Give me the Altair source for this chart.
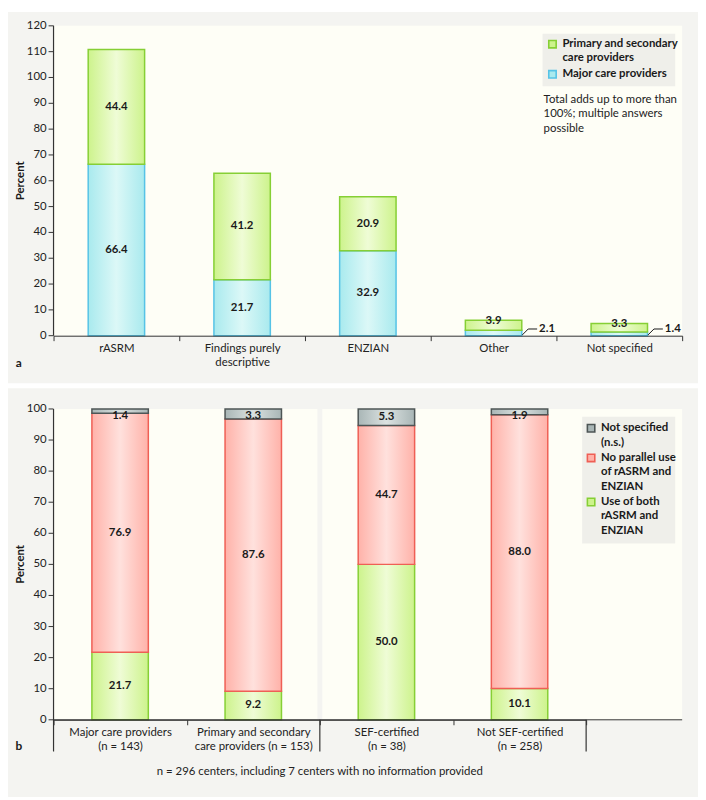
import altair as alt
import pandas as pd

FONT = "Lato"

# ---------------- data ----------------
cats_a = ["rASRM", "Findings purely\ndescriptive", "ENZIAN", "Other", "Not specified"]
major_a = [66.4, 21.7, 32.9, 2.1, 1.4]
primary_a = [44.4, 41.2, 20.9, 3.9, 3.3]
yticks_a = [0, 10, 20, 30, 40, 50, 60, 70, 80, 90, 100, 110, 120]

cats_b = ["Major care providers\n(n = 143)", "Primary and secondary\ncare providers (n = 153)",
          "SEF-certified\n(n = 38)", "Not SEF-certified\n(n = 258)"]
both_b = [21.7, 9.2, 50.0, 10.1]
nopar_b = [76.9, 87.6, 44.7, 88.0]
ns_b = [1.4, 3.3, 5.3, 1.9]
yticks_b = [0, 10, 20, 30, 40, 50, 60, 70, 80, 90, 100]

legend_a = [["Primary and secondary", "care providers"], ["Major care providers"]]
note_a = ["Total adds up to more than", "100%; multiple answers", "possible"]
legend_b = [["Not specified", "(n.s.)"], ["No parallel use", "of rASRM and", "ENZIAN"],
            ["Use of both", "rASRM and", "ENZIAN"]]
footnote = "n = 296 centers, including 7 centers with no information provided"

# ---------------- styles ----------------
W = 635
H1 = 313
H2 = 314
BG = "#f4f4f1"
PLOT = "#fefef6"
INK = "#1a1a1a"
AX = "#333333"
GREEN = ("#cdf38c", "#effcd6", "#86cf35")
BLUE = ("#a9eaee", "#dcf8f7", "#56c3e6")
RED = ("#ffb2a9", "#ffe1dd", "#ef5f55")
GRAY = ("#a9b6b6", "#dbe2e1", "#4d5555")


def grad(c):
    return alt.Gradient(
        gradient="linear",
        stops=[alt.GradientStop(color=c[0], offset=0),
               alt.GradientStop(color=c[1], offset=0.5),
               alt.GradientStop(color=c[0], offset=1)],
        x1=0, x2=1, y1=0, y2=0)


one = pd.DataFrame({"d": [0]})


def panel_bg(h_top, h_bot):
    return alt.Chart(one).mark_rect(color=BG).encode(
        x=alt.value(-46), x2=alt.value(651), y=alt.value(h_top), y2=alt.value(h_bot))


def plot_bg(h):
    return alt.Chart(one).mark_rect(color=PLOT).encode(
        x=alt.value(0), x2=alt.value(W), y=alt.value(0), y2=alt.value(h))


def xaxis():
    return alt.Axis(tickBand="extent", labelAngle=0, labelFont=FONT, labelFontSize=11.5,
                    labelColor="#222", domainColor=AX, tickColor=AX, tickSize=5,
                    labelPadding=2, title=None, labelLineHeight=14, zindex=1,
                    labelExpr="split(datum.label, '\\n')")


def y_axis_layers(ticks, yenc, h, extra):
    dft = pd.DataFrame({"v": ticks})
    tk = alt.Chart(dft).mark_rule(color=AX, strokeWidth=1).encode(
        x=alt.value(-5), x2=alt.value(0), y=yenc("v:Q"))
    lb = alt.Chart(dft).mark_text(align="right", baseline="middle", font=FONT, fontSize=11.5,
                                  color="#222").encode(
        x=alt.value(-7), y=yenc("v:Q"), text="v:Q")
    dom = alt.Chart(one).mark_rule(color=AX, strokeWidth=1.2).encode(
        x=alt.value(0), y=alt.value(0), y2=alt.value(h + extra))
    return [tk, lb, dom]


def legend_layers(entries, colors, x0, y0, box, step=14.5, gap=1.0):
    rows_sq, rows_tx = [], []
    y = y0
    for ent, col in zip(entries, colors):
        rows_sq.append({"px": x0, "py": y, "f": col[0], "s": col[2]})
        for ln in ent:
            rows_tx.append({"px": x0 + 10, "py": y, "t": ln})
            y += step
        y += gap
    bx = alt.Chart(one).mark_rect(color="#efefea").encode(
        x=alt.value(box[0]), x2=alt.value(box[1]), y=alt.value(box[2]), y2=alt.value(box[3]))
    sq = alt.Chart(pd.DataFrame(rows_sq)).mark_square(size=56, strokeWidth=1.6, opacity=1).encode(
        x=alt.X("px:Q", scale=None, axis=None), y=alt.Y("py:Q", scale=None, axis=None),
        fill=alt.Fill("f:N", scale=None), stroke=alt.Stroke("s:N", scale=None))
    tx = alt.Chart(pd.DataFrame(rows_tx)).mark_text(
        align="left", baseline="middle", font=FONT, fontSize=11.5, fontWeight="bold", color=INK).encode(
        x=alt.X("px:Q", scale=None, axis=None), y=alt.Y("py:Q", scale=None, axis=None), text="t:N")
    return [bx, sq, tx]


# ---------------- panel a ----------------
SCA = alt.Scale(domain=[0, 120], nice=False)
Xa = alt.X("cat:N", sort=cats_a, scale=alt.Scale(domain=cats_a, paddingInner=0, paddingOuter=0),
           axis=xaxis())


def Ya(field):
    return alt.Y(field, scale=SCA, axis=None)


rows = []
for c, m, p in zip(cats_a, major_a, primary_a):
    rows.append({"cat": c, "ser": "major", "start": 0.0, "end": m, "v": m})
    rows.append({"cat": c, "ser": "primary", "start": m, "end": m + p, "v": p})
dfa = pd.DataFrame(rows)

bars_a = []
for ser, col in [("major", BLUE), ("primary", GREEN)]:
    bars_a.append(
        alt.Chart(dfa[dfa.ser == ser]).mark_bar(width=57, fill=grad(col), stroke=col[2], strokeWidth=1.5)
        .encode(x=Xa, y=Ya("start:Q"), y2="end:Q"))

lab_rows, out_rows = [], []
for r in rows:
    if r["v"] < 3:
        out_rows.append({"cat": r["cat"], "y0": 0.3, "y1": 2.6, "t": f"{r['v']:.1f}"})
    elif r["v"] < 5:
        lab_rows.append({"cat": r["cat"], "start": r["end"] - 0.35, "t": f"{r['v']:.1f}"})
    else:
        lab_rows.append({"cat": r["cat"], "start": (r["start"] + r["end"]) / 2, "t": f"{r['v']:.1f}"})
labs_a = alt.Chart(pd.DataFrame(lab_rows)).mark_text(
    font=FONT, fontSize=11.5, fontWeight="bold", color=INK, baseline="middle").encode(
    x=Xa, y=Ya("start:Q"), text="t:N")
dfo = pd.DataFrame(out_rows)
lead1 = alt.Chart(dfo).mark_rule(color=INK, strokeWidth=1, xOffset=29, x2Offset=35).encode(
    x=Xa, x2=alt.X2("cat"), y=Ya("y0:Q"), y2="y1:Q")
lead2 = alt.Chart(dfo).mark_rule(color=INK, strokeWidth=1, xOffset=35, x2Offset=44).encode(
    x=Xa, x2=alt.X2("cat"), y=Ya("y1:Q"))
outl = alt.Chart(dfo).mark_text(font=FONT, fontSize=11.5, fontWeight="bold", color=INK,
                                align="left", baseline="middle", dx=46).encode(
    x=Xa, y=Ya("y1:Q"), text="t:N")

ttl_a = alt.Chart(one).mark_text(text="Percent", angle=270, font=FONT, fontSize=11.5,
                                 fontWeight="bold", color=INK, baseline="middle").encode(
    x=alt.value(-33), y=alt.value(H1 / 2))
tag_a = alt.Chart(one).mark_text(text="a", font=FONT, fontSize=12, fontWeight="bold",
                                 color=INK, baseline="middle").encode(
    x=alt.value(-35), y=alt.value(H1 + 28))
note = alt.Chart(pd.DataFrame({"t": note_a, "i": range(len(note_a))})).transform_calculate(
    yy="75 + datum.i * 14.5").mark_text(align="left", baseline="middle", font=FONT, fontSize=11.5,
                                        color="#222").encode(
    x=alt.value(495), y=alt.Y("yy:Q", scale=None, axis=None), text="t:N")

leg_a = legend_layers(legend_a, [GREEN, BLUE], 504, 18.5, (494, 628, 8, 61), step=14.5, gap=1.5)
yax_a = y_axis_layers(yticks_a, Ya, H1, 0)

top = alt.layer(panel_bg(-14, 361), plot_bg(H1), *bars_a, labs_a, lead1, lead2, outl,
                *yax_a, ttl_a, tag_a, note, *leg_a).properties(width=W, height=H1)

# ---------------- panel b ----------------
SCB = alt.Scale(domain=[0, 100], nice=False, clamp=True)
XSB = alt.Scale(domain=cats_b, paddingInner=0, paddingOuter=0, range=[0, 538])
Xb = alt.X("cat:N", sort=cats_b, scale=XSB, axis=xaxis())


def Yb(field):
    return alt.Y(field, scale=SCB, axis=None)


rows_b = []
for c, b, n, s in zip(cats_b, both_b, nopar_b, ns_b):
    rows_b.append({"cat": c, "ser": "both", "start": 0.0, "end": b, "v": b,
                   "ly": b / 2})
    rows_b.append({"cat": c, "ser": "nopar", "start": b, "end": b + n, "v": n,
                   "ly": b + n / 2})
    rows_b.append({"cat": c, "ser": "ns", "start": b + n, "end": b + n + s, "v": s,
                   "ly": min(b + n + s / 2, 97.7)})
dfb = pd.DataFrame(rows_b)

strip = alt.Chart(pd.DataFrame({"cat": [cats_b[2]]})).mark_rule(color=BG, strokeWidth=5).encode(
    x=alt.X("cat:N", scale=XSB, bandPosition=0, axis=xaxis(), sort=cats_b),
    y=alt.value(0), y2=alt.value(H2))

bars_b = []
for ser, col in [("both", GREEN), ("nopar", RED), ("ns", GRAY)]:
    bars_b.append(
        alt.Chart(dfb[dfb.ser == ser]).mark_bar(width=57, fill=grad(col), stroke=col[2], strokeWidth=1.5)
        .encode(x=Xb, y=Yb("start:Q"), y2="end:Q"))

labs_b = alt.Chart(dfb).transform_calculate(t="format(datum.v, '.1f')").mark_text(
    font=FONT, fontSize=11.5, fontWeight="bold", color=INK, baseline="middle").encode(
    x=Xb, y=Yb("ly:Q"), text="t:N")

base_line = alt.Chart(one).mark_rule(color=AX, strokeWidth=1).encode(
    x=alt.value(0), x2=alt.value(W), y=alt.value(H2))

long1 = alt.Chart(pd.DataFrame({"cat": [cats_b[2]]})).mark_rule(
    color=AX, strokeWidth=1.2).encode(
    x=alt.X("cat:N", sort=cats_b, bandPosition=0, scale=XSB, axis=xaxis()),
    y=alt.value(H2), y2=alt.value(H2 + 32))
long2 = alt.Chart(pd.DataFrame({"cat": [cats_b[3]]})).mark_rule(color=AX, strokeWidth=1.2).encode(
    x=alt.X("cat:N", sort=cats_b, bandPosition=1, scale=XSB, axis=xaxis()),
    y=alt.value(H2), y2=alt.value(H2 + 32))

ttl_b = alt.Chart(one).mark_text(text="Percent", angle=270, font=FONT, fontSize=11.5,
                                 fontWeight="bold", color=INK, baseline="middle").encode(
    x=alt.value(-33), y=alt.value(H2 / 2))
tag_b = alt.Chart(one).mark_text(text="b", font=FONT, fontSize=12, fontWeight="bold",
                                 color=INK, baseline="middle").encode(
    x=alt.value(-35), y=alt.value(H2 + 27))
foot = alt.Chart(one).mark_text(text=footnote, font=FONT, fontSize=11.5, color="#222",
                                baseline="middle").encode(
    x=alt.value(269), y=alt.value(H2 + 53))

leg_b = legend_layers(legend_b, [GRAY, RED, GREEN], 543, 19.5, (534, 628, 8, 136), step=14.5, gap=1.0)
yax_b = y_axis_layers(yticks_b, Yb, H2, 32)

bottom = alt.layer(panel_bg(-21, 392), plot_bg(H2), strip, *bars_b, labs_b, base_line, long1, long2,
                   *yax_b, ttl_b, tag_b, foot, *leg_b).properties(width=W, height=H2)

chart = (
    alt.vconcat(top, bottom, spacing=74, bounds="flush")
    .properties(padding=0)
    .resolve_scale(x="independent", y="independent")
    .configure_view(stroke=None)
)

chart.save("out.html", embed_options={"renderer": "svg", "actions": False})
